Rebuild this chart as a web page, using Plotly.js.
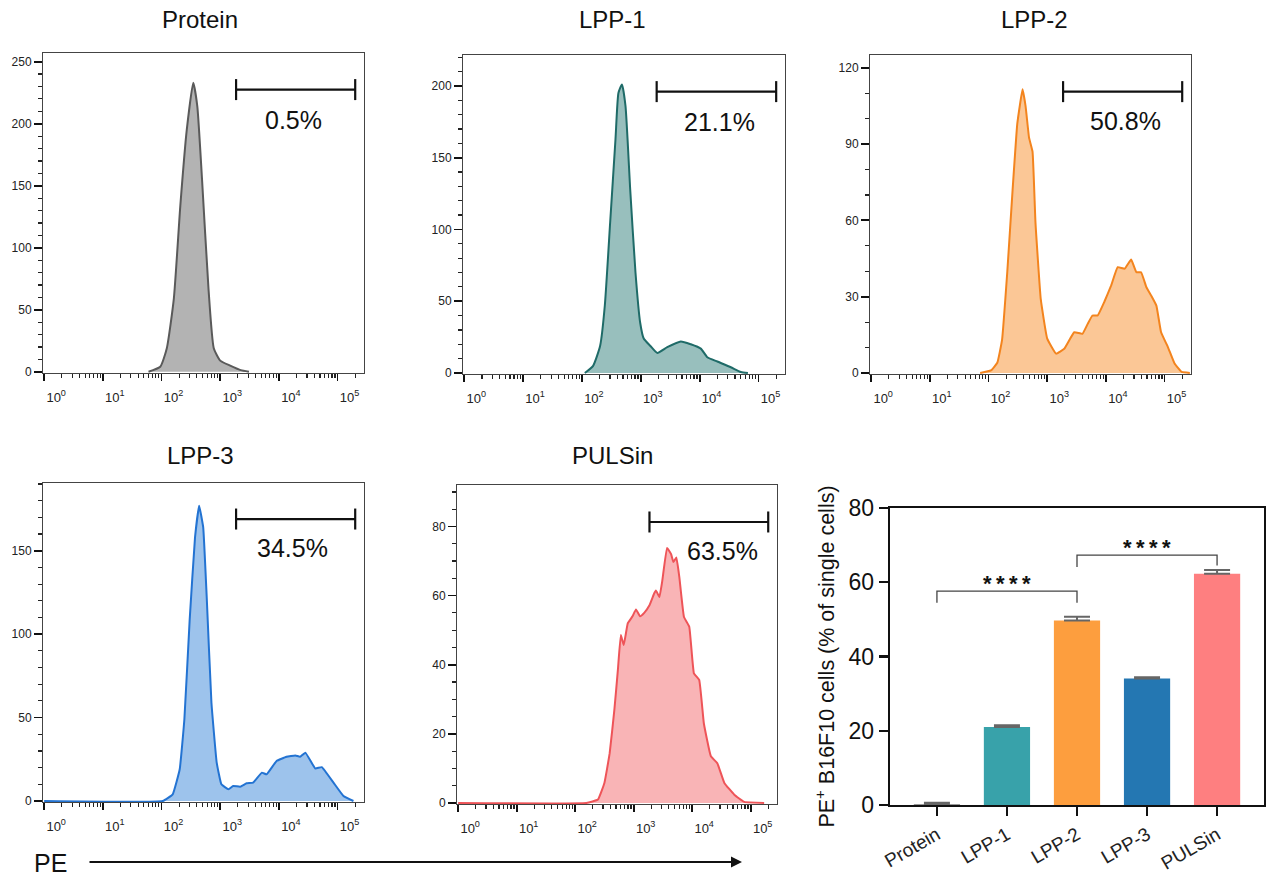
<!DOCTYPE html>
<html><head><meta charset="utf-8">
<script src="https://cdn.plot.ly/plotly-3.0.1.min.js"></script>
<style>html,body{margin:0;padding:0;background:#fff}#chart{width:1268px;height:879px}</style>
</head><body><div id="chart"></div><script>
// ---------- DATA ----------
var proteinPE    = [60, 95, 123, 162, 209, 269, 347, 407, 490, 631, 776, 1000, 1479, 2239, 3090];
var proteinCount = [0, 4, 19, 59, 134, 195, 233, 214, 155, 67, 19, 9, 5, 1.3, 0];

var lpp1PE    = [112, 155, 204, 245, 302, 372, 417, 479, 550, 661, 813, 977, 1122, 1445, 1905, 2818, 4786, 7079, 10471, 13490, 19953, 33884, 50119, 66069];
var lpp1Count = [0, 5, 19, 47, 105, 163, 195, 201, 186, 128, 70, 35, 24, 19, 14, 18, 22, 20, 17, 11, 8, 4, 0.7, 0];

var lpp2PE    = [72, 110, 141, 170, 209, 257, 309, 380, 427, 490, 562, 631, 776, 1000, 1413, 1950, 2884, 3981, 4898, 5888, 7244, 9333, 12303, 15849, 20893, 26915, 33113, 39811, 48978, 58884, 72444, 87096, 114815, 147911, 194984, 269153];
var lpp2Count = [0, 1, 4, 13, 40, 72, 98, 111.5, 105, 92.5, 87, 59, 29, 13.5, 7.6, 9.5, 16, 15.4, 19.3, 22.6, 22.6, 27.8, 34.4, 41.6, 41, 44.6, 39.6, 39.6, 33.7, 30.5, 26.5, 16, 10, 3.7, 0.4, 0];

var lpp3PE    = [1, 105, 155, 204, 245, 302, 372, 437, 513, 589, 708, 871, 1047, 1380, 1660, 2188, 2818, 3631, 5129, 6166, 9120, 13490, 19055, 22909, 28184, 41687, 53703, 85114, 125893, 186209];
var lpp3Count = [0, 0, 4, 19, 49, 109, 158, 177, 164, 122, 59, 23, 10, 7, 9, 8.6, 10.6, 11, 17, 16, 24, 26.5, 27.3, 26.5, 29, 19.5, 20.3, 11, 3, 0];

var pulsinPE    = [1, 155, 245, 316, 389, 468, 537, 603, 676, 794, 955, 1096, 1288, 1514, 1862, 2239, 2399, 2754, 3090, 3715, 4365, 4786, 5370, 6026, 7244, 8913, 10715, 13183, 15849, 20893, 26915, 35481, 52481, 77625, 169824];
var pulsinCount = [0, 0, 1, 5.8, 14.4, 27, 38.5, 48.6, 45.7, 52, 54, 56, 54, 55, 57.2, 60.6, 61.5, 59.6, 64.4, 73.8, 72, 69.7, 71, 65.4, 53.8, 51, 37.5, 35.6, 23, 13.5, 11.5, 5.8, 2.4, 0.3, 0];

var panelTitles = ['Protein', 'LPP-1', 'LPP-2', 'LPP-3', 'PULSin'];
var gatePercent = ['0.5%', '21.1%', '50.8%', '34.5%', '63.5%'];
var gateRange = [1862, 199526];

var barGroups = ['Protein', 'LPP-1', 'LPP-2', 'LPP-3', 'PULSin'];
var barMeans  = [0.3, 21.0, 49.7, 34.1, 62.3];
var barErrors = [0.3, 0.5, 1.0, 0.3, 1.0];

var logTickVals = [1, 10, 100, 1000, 10000, 100000];
var logTickText = ['10<sup>0</sup>', '10<sup>1</sup>', '10<sup>2</sup>', '10<sup>3</sup>', '10<sup>4</sup>', '10<sup>5</sup>'];

// ---------- LAYOUT HELPERS ----------
var W = 1268, H = 879;
function dx(a, b) { return [a / W, b / W]; }
function dy(top, bottom) { return [1 - bottom / H, 1 - top / H]; }
var FONT = 'Liberation Sans, Arial, sans-serif';

var panels = [
  {x: proteinPE, y: proteinCount, fill: '#b3b3b3', line: '#5a5a5a', box: [43, 364, 53, 373], yr: [-1, 257], dt: 50, mdt: 10, gy: 227.5, lab: [293, 120], title: [200, 20], sm: 0.5},
  {x: lpp1PE, y: lpp1Count, fill: '#98bfbd', line: '#1f6b68', box: [463, 785, 55, 374], yr: [-0.7, 221.5], dt: 50, mdt: 10, gy: 196, lab: [719, 122], title: [612, 20], sm: 0.5},
  {x: lpp2PE, y: lpp2Count, fill: '#fbc796', line: '#f3841e', box: [870, 1191, 55, 374], yr: [-0.4, 125], dt: 30, mdt: 10, gy: 110.6, lab: [1125, 121], title: [1034, 20], sm: 0.3},
  {x: lpp3PE, y: lpp3Count, fill: '#9dc3ec', line: '#2373d2', box: [43, 364, 483, 802], yr: [-0.6, 190.6], dt: 50, mdt: 10, gy: 169, lab: [292, 548], title: [200, 455], sm: 0.3},
  {x: pulsinPE, y: pulsinCount, fill: '#f9b4b6', line: '#ee5458', box: [457, 777, 485, 804], yr: [-0.3, 92], dt: 20, mdt: 5, gy: 81.3, lab: [722, 551], title: [612, 455], sm: 0.3}
];

var data = [];
var layout = {
  width: W, height: H,
  margin: {l: 0, r: 0, t: 0, b: 0},
  paper_bgcolor: '#fff', plot_bgcolor: '#fff',
  showlegend: false,
  font: {family: FONT, color: '#111'},
  annotations: [], shapes: []
};

panels.forEach(function (p, i) {
  var n = i + 1;
  var xa = n === 1 ? 'x' : 'x' + n;
  var ya = n === 1 ? 'y' : 'y' + n;
  data.push({
    type: 'scatter', mode: 'lines', x: p.x, y: p.y, xaxis: xa, yaxis: ya,
    fill: 'tozeroy', fillcolor: p.fill,
    line: {color: p.line, width: 2, shape: 'spline', smoothing: p.sm},
    hoverinfo: 'skip'
  });
  // gate bar
  data.push({
    type: 'scatter', mode: 'lines+markers', x: gateRange, y: [p.gy, p.gy], xaxis: xa, yaxis: ya,
    line: {color: '#111', width: 2.2},
    marker: {symbol: 'line-ns', size: 15, line: {color: '#111', width: 2.2}},
    hoverinfo: 'skip', cliponaxis: false
  });
  layout['xaxis' + (n === 1 ? '' : n)] = {
    domain: dx(p.box[0], p.box[1]), anchor: ya, type: 'log',
    range: [-0.02, 5.45], tickvals: logTickVals, ticktext: logTickText,
    ticks: 'outside', ticklen: 7, tickwidth: 1.8, tickcolor: '#111',
    minor: {dtick: 'D1', ticks: 'outside', ticklen: 4, tickwidth: 1.2, tickcolor: '#222', showgrid: false},
    tickfont: {size: 13, color: '#222', family: FONT},
    ticklabelshift: 12, ticklabelstandoff: 5,
    showline: true, linecolor: '#444', linewidth: 1, mirror: true,
    showgrid: false, zeroline: false, automargin: false, fixedrange: true
  };
  layout['yaxis' + (n === 1 ? '' : n)] = {
    domain: dy(p.box[2], p.box[3]), anchor: xa,
    range: p.yr, dtick: p.dt, tick0: 0,
    ticks: 'outside', ticklen: 8, tickwidth: 1.8, tickcolor: '#111',
    minor: {dtick: p.mdt, ticks: 'outside', ticklen: 4, tickwidth: 1.2, tickcolor: '#222', showgrid: false},
    tickfont: {size: 12, color: '#222', family: FONT},
    showline: true, linecolor: '#444', linewidth: 1, mirror: true,
    showgrid: false, zeroline: false, automargin: false, fixedrange: true
  };
  layout.annotations.push({
    xref: 'paper', yref: 'paper', x: p.title[0] / W, y: 1 - p.title[1] / H,
    text: panelTitles[i], showarrow: false, xanchor: 'center', yanchor: 'middle',
    font: {size: 24, family: FONT, color: '#111'}
  });
  layout.annotations.push({
    xref: 'paper', yref: 'paper', x: p.lab[0] / W, y: 1 - p.lab[1] / H,
    text: gatePercent[i], showarrow: false, xanchor: 'center', yanchor: 'middle',
    font: {size: 25, family: FONT, color: '#111'}
  });
});

// ---------- BAR CHART ----------
var barColors = ['#9a9a9a', '#38a2aa', '#fd9e3e', '#2477b2', '#fe7f80'];
data.push({
  type: 'bar', x: barGroups, y: barMeans, xaxis: 'x6', yaxis: 'y6',
  width: 0.66,
  marker: {color: barColors, line: {width: 0}},
  error_y: {type: 'data', array: barErrors, symmetric: false, arrayminus: [0, 0, 0, 0, 0], visible: true, color: '#666', thickness: 2, width: 13},
  hoverinfo: 'skip'
});
layout.xaxis6 = {
  domain: dx(890, 1264), anchor: 'y6', range: [-0.67, 4.67],
  ticks: 'outside', ticklen: 9, tickwidth: 2.2, tickcolor: '#111',
  tickangle: -30, tickfont: {size: 19, family: FONT, color: '#222'},
  showline: true, linecolor: '#111', linewidth: 2.4, mirror: true,
  showgrid: false, zeroline: false, automargin: false, fixedrange: true
};
layout.yaxis6 = {
  domain: dy(508, 805), anchor: 'x6', range: [0, 80], dtick: 20,
  ticks: 'outside', ticklen: 9, tickwidth: 2.2, tickcolor: '#111',
  tickfont: {size: 23, family: FONT, color: '#111'},
  title: {text: 'PE<sup>+</sup> B16F10 cells (% of single cells)', font: {size: 21.5, family: FONT, color: '#111'}, standoff: 8},
  showline: true, linecolor: '#111', linewidth: 2.4, mirror: true,
  showgrid: false, zeroline: false, automargin: false, fixedrange: true
};
// significance brackets
var br = {color: '#444', width: 1.3};
layout.shapes.push({type: 'path', xref: 'x6', yref: 'y6', path: 'M 0 54.5 L 0 57.6 L 2 57.6 L 2 54.5', line: br});
layout.shapes.push({type: 'path', xref: 'x6', yref: 'y6', path: 'M 2 64.1 L 2 67.3 L 4 67.3 L 4 64.5', line: br});
var stars = '*\u2009*\u2009*\u2009*';
layout.annotations.push({xref: 'x6', yref: 'y6', x: 1, y: 55.8, text: stars, showarrow: false, yanchor: 'bottom', font: {size: 22, family: FONT, color: '#111', weight: 'bold'}});
layout.annotations.push({xref: 'x6', yref: 'y6', x: 3, y: 65.5, text: stars, showarrow: false, yanchor: 'bottom', font: {size: 22, family: FONT, color: '#111', weight: 'bold'}});

// ---------- PE axis label + arrow ----------
layout.annotations.push({xref: 'paper', yref: 'paper', x: 50 / W, y: 1 - 863 / H, text: 'PE', showarrow: false, xanchor: 'center', yanchor: 'middle', font: {size: 25, family: 'Liberation Sans Narrow, ' + FONT, color: '#111'}});
layout.annotations.push({xref: 'paper', yref: 'paper', x: 742 / W, y: 1 - 862 / H, text: '', showarrow: true, axref: 'pixel', ayref: 'pixel', ax: -654, ay: 0, arrowhead: 2, arrowsize: 1.1, arrowwidth: 2, arrowcolor: '#111', standoff: 0, startstandoff: 0});

Plotly.newPlot('chart', data, layout, {displayModeBar: false, staticPlot: true});
</script></body></html>
